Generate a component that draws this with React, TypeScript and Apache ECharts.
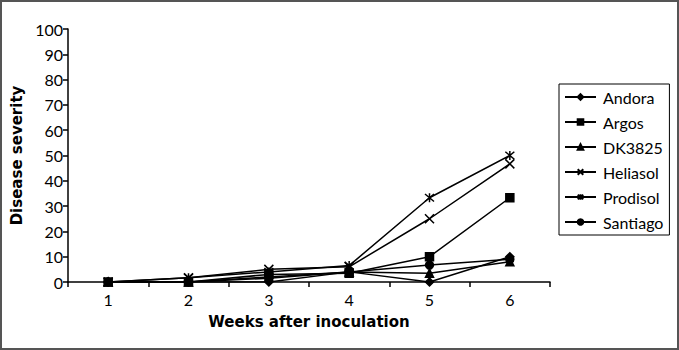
import React, { useEffect, useRef } from "react";
import * as echarts from "echarts";

const weeks = ["1", "2", "3", "4", "5", "6"];
const seriesNames = ["Andora", "Argos", "DK3825", "Heliasol", "Prodisol", "Santiago"];
const andora = [0, 0, 0, 4, 0, 10];
const argos = [0, 0, 3, 3.5, 10, 33.3];
const dk3825 = [0, 0, 2, 4, 3.5, 8];
const heliasol = [0, 1.7, 5, 6, 25, 46.7];
const prodisol = [0, 1.7, 4, 6.5, 33.3, 50];
const santiago = [0, 0, 1.5, 4, 6.7, 9];
const yTicks = [0, 10, 20, 30, 40, 50, 60, 70, 80, 90, 100];

const FONT = "Lato";
const TITLE_FONT = "DejaVu Sans";
const symbols = [
  "diamond",
  "rect",
  "triangle",
  "path://M0,0L10,10M10,0L0,10",
  "path://M0,0L10,10M10,0L0,10M5,-1L5,11",
  "circle",
];
const symbolSizes = [8, 8, 8, 9, 9, 8];

export default function App() {
  const ref = useRef<HTMLDivElement>(null);
  useEffect(() => {
    const chart = echarts.init(ref.current!, undefined, { renderer: "svg" });
    const dataSets = [andora, argos, dk3825, heliasol, prodisol, santiago];
    chart.setOption({
      animation: false,
      backgroundColor: "#fff",
      textStyle: { fontFamily: FONT, color: "#000" },
      graphic: [
        {
          type: "rect",
          shape: { x: 1, y: 1, width: 677, height: 348 },
          style: { fill: "none", stroke: "#555", lineWidth: 2 },
          silent: true,
        },
      ],
      grid: { left: 68, right: 129, top: 29, bottom: 68 },
      legend: {
        orient: "vertical",
        left: 559,
        top: 84,
        width: 110,
        padding: [5, 6, 5, 5],
        borderColor: "#000",
        borderWidth: 1,
        itemWidth: 31,
        itemHeight: 7,
        itemGap: 9,
        data: seriesNames,
        textStyle: { fontFamily: FONT, fontSize: 16, color: "#000", padding: [0, 0, 0, 2] },
      },
      xAxis: {
        type: "category",
        data: weeks,
        boundaryGap: true,
        name: "Weeks after inoculation",
        nameLocation: "middle",
        nameGap: 32,
        nameTextStyle: { fontFamily: TITLE_FONT, fontSize: 15, fontWeight: "bold", color: "#000" },
        axisLine: { lineStyle: { color: "#000", width: 1.5 } },
        axisTick: { show: true, length: 5, lineStyle: { color: "#000", width: 1.5 } },
        axisLabel: { fontFamily: FONT, fontSize: 16, color: "#000", margin: 9 },
        splitLine: { show: false },
      },
      yAxis: {
        type: "value",
        min: 0,
        max: 100,
        interval: 10,
        name: "Disease severity",
        nameLocation: "middle",
        nameGap: 37,
        nameRotate: 90,
        nameTextStyle: { fontFamily: TITLE_FONT, fontSize: 15, fontWeight: "bold", color: "#000" },
        axisLine: { show: true, lineStyle: { color: "#000", width: 1.5 } },
        axisTick: { show: true, length: 5, lineStyle: { color: "#000", width: 1.5 } },
        axisLabel: {
          fontFamily: FONT,
          fontSize: 16,
          color: "#000",
          margin: 5,
          formatter: (v: number) => (yTicks.includes(v) ? String(v) : ""),
        },
        splitLine: { show: false },
      },
      series: seriesNames.map((name, i) => ({
        name,
        type: "line",
        data: dataSets[i],
        symbol: symbols[i],
        symbolSize: symbolSizes[i],
        showAllSymbol: true,
        lineStyle: { color: "#000", width: 1.5 },
        itemStyle: { color: "#000", borderColor: "#000", borderWidth: 1.5 },
        z: 2 + i,
      })),
    });
    return () => chart.dispose();
  }, []);
  return (
    <div
      ref={ref}
      style={{ position: "fixed", left: 0, top: 0, width: 679, height: 350 }}
    />
  );
}
